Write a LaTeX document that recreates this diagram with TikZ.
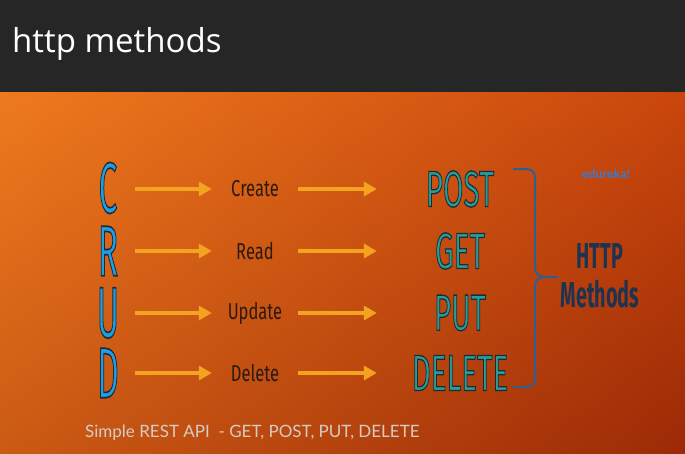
\documentclass[tikz,border=0pt]{standalone}
\usepackage{fontspec}
\usepackage{graphicx}
\setmainfont{Open Sans}
\newfontfamily\firafont{Fira Sans}
\newfontfamily\latofont{Lato}
\usetikzlibrary{arrows.meta,positioning,calc,shadings}

\definecolor{barc}{HTML}{262626}
\definecolor{bgA}{HTML}{EE7A1E}
\definecolor{bgB}{HTML}{C9460C}
\definecolor{bgC}{HTML}{CB5A14}
\definecolor{bgD}{HTML}{9C2A06}
\definecolor{crudblue}{HTML}{1BA0E6}
\definecolor{arrowc}{HTML}{F4A321}
\definecolor{opdark}{HTML}{2A1A10}
\definecolor{methteal}{HTML}{26A096}
\definecolor{navy}{HTML}{1E3350}
\definecolor{bracec}{HTML}{2D5F94}
\definecolor{edublue}{HTML}{3A7BD0}
\definecolor{footgray}{HTML}{D6CCC4}

% squeezed text, filled and edged in dark
\newcommand\tallword[3][1]{\scalebox{#2}[#1]{%
    \special{pdf:literal direct 2 Tr 1.3 w 0.11 0.16 0.22 RG}#3%
    \special{pdf:literal direct 0 Tr}}}
\newcommand\sqz[2]{\scalebox{#1}[1]{#2}}

\begin{document}
\begin{tikzpicture}[
    x=1pt, y=-1pt,
    % letters of CRUD
    crud/.style={font=\firafont\fontsize{58}{58}\selectfont, text=crudblue,
        inner sep=0pt, minimum width=54pt},
    % operation words
    op/.style={font=\firafont\fontsize{23}{23}\selectfont, text=opdark,
        inner sep=0pt, minimum width=86pt},
    % http verbs
    verb/.style={font=\firafont\fontsize{51}{51}\selectfont, text=methteal,
        inner sep=0pt, minimum width=166pt},
    arr/.style={draw=arrowc, line width=4.5pt, -{Triangle[length=13pt,width=14pt]}},
    brace/.style={draw=bracec, line width=2pt}
]
\useasboundingbox (0,0) rectangle (685,453);

% ==================== BACKGROUND ====================
\shade[upper left=bgA, upper right=bgB, lower left=bgC, lower right=bgD]
    (0,92) rectangle (685,453);
\fill[barc] (0,0) rectangle (685,92);
\node[anchor=base west, text=white, inner sep=0pt,
    font=\fontsize{33}{33}\selectfont] (title) at (12,52) {http methods};
\node[font=\latofont\bfseries\fontsize{12.5}{12.5}\selectfont, text=edublue,
    inner sep=0pt] (logo) at (606,174) {edureka!};

% ==================== CRUD ====================
\node[crud] (C) at (108,188) {\tallword[1.24]{0.58}{C}};
\node[crud] (R) at (108,251) {\tallword[1.24]{0.58}{R}};
\node[crud] (U) at (108,313) {\tallword[1.24]{0.58}{U}};
\node[crud] (D) at (108,373) {\tallword[1.24]{0.58}{D}};

% operations
\node[op] (create) at (255,189) {\sqz{0.72}{Create}};
\node[op] (read) at (255,251) {\sqz{0.72}{Read}};
\node[op] (update) at (255,313) {\sqz{0.72}{Update}};
\node[op] (delete) at (255,373) {\sqz{0.72}{Delete}};

% http verbs
\node[verb] (post) at (460,189) {\tallword{0.58}{POST}};
\node[verb] (get) at (460,251) {\tallword{0.58}{GET}};
\node[verb] (put) at (460,313) {\tallword{0.58}{PUT}};
\node[verb] (del) at (460,373) {\tallword{0.58}{DELETE}};

% arrows
\foreach \a/\b in {C/create, R/read, U/update, D/delete, create/post, read/get, update/put, delete/del}
    \draw[arr] (\a.east |- \b.west) -- (\b.west);

% ==================== BRACE AND LABEL ====================
\coordinate (tip) at (558,277);
\draw[brace] (513,169) -- (527,169) to[out=0,in=90] (535,177) -- (535,268)
    to[out=-90,in=180] (544,277) -- (tip);
\draw[brace] (544,277) to[out=180,in=90] (535,286) -- (535,379)
    to[out=-90,in=0] (527,387) -- (513,387);
\node[font=\firafont\bfseries\fontsize{36}{39}\selectfont, text=navy,
    align=center, inner sep=0pt] (http) at (600,276)
    {\sqz{0.55}{HTTP}\\\sqz{0.55}{Methods}};

% footer
\node[anchor=base west, text=footgray, inner sep=0pt,
    font=\latofont\fontsize{17}{17}\selectfont] (foot) at (85,437)
    {Simple REST API\ \ - GET, POST, PUT, DELETE};
\end{tikzpicture}
\end{document}
